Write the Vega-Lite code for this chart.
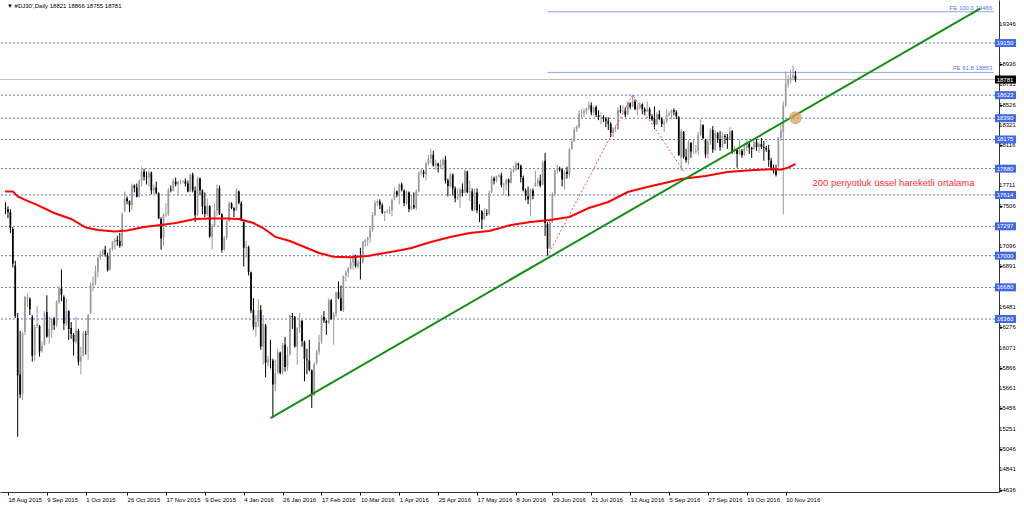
{
"$schema": "https://vega.github.io/schema/vega-lite/v6.json",
"width": 999, "height": 492,
"autosize": {"type": "none"},
"padding": {"left": 0, "top": 0, "right": 25, "bottom": 13},
"background": "white",
"config": {"view": {"stroke": null}, "font": "Liberation Sans", "axis": {"labelOverlap": false, "labelBound": false, "labelFlush": false}},
"datasets": {
"ylab": [{"p":14636},{"p":14841},{"p":15046},{"p":15251},{"p":15456},{"p":15661},{"p":15866},{"p":16071},{"p":16276},{"p":16481},{"p":16891},{"p":17096},{"p":17506},{"p":17711},{"p":18116},{"p":18321},{"p":18526},{"p":18731},{"p":18936},{"p":19346}],
"tags": [{"p":19150,"t":"19150","k":"lvl"},{"p":18623,"t":"18623","k":"lvl"},{"p":18390,"t":"18390","k":"lvl"},{"p":18175,"t":"18175","k":"lvl"},{"p":17880,"t":"17880","k":"lvl"},{"p":17614,"t":"17614","k":"lvl"},{"p":17297,"t":"17297","k":"lvl"},{"p":17000,"t":"17000","k":"lvl"},{"p":16680,"t":"16680","k":"lvl"},{"p":16360,"t":"16360","k":"lvl"},{"p":18781,"t":"18781","k":"bid"}],
"fe": [{"i":222,"p":19466,"t":"FE 100.0 19466"},{"i":222,"p":18853,"t":"FE 61.8 18853"}],
"fetri": [{"i":222,"p":16995},{"i":257,"p":18625},{"i":278,"p":17855}],
"trend": [{"i":108,"p":15359},{"i":400,"p":19498}],
"circ": [{"i":324,"p":18395}],
"note": [{"i":331,"p":17735,"t":"200 periyotluk üssel hareketli ortalama"}],
"head": [{"i":-0.4,"p":19525,"t":"▼ #DJ30',Daily  18821 18866 18755 18781"}],
"ema": [{"i":-1.2,"p":17650},{"i":2,"p":17650},{"i":4,"p":17600},{"i":8,"p":17555},{"i":12,"p":17513},{"i":19,"p":17432},{"i":26,"p":17371},{"i":32,"p":17285},{"i":37,"p":17260},{"i":44,"p":17245},{"i":49,"p":17255},{"i":56,"p":17290},{"i":63,"p":17310},{"i":69,"p":17330},{"i":77,"p":17370},{"i":83,"p":17375},{"i":90,"p":17375},{"i":95,"p":17370},{"i":101,"p":17330},{"i":105,"p":17280},{"i":110,"p":17190},{"i":116,"p":17148},{"i":121,"p":17098},{"i":128,"p":17027},{"i":134,"p":16990},{"i":141,"p":16985},{"i":148,"p":16997},{"i":155,"p":17027},{"i":162,"p":17057},{"i":166,"p":17078},{"i":174,"p":17138},{"i":182,"p":17189},{"i":190,"p":17229},{"i":198,"p":17250},{"i":207,"p":17310},{"i":215,"p":17341},{"i":223,"p":17361},{"i":231,"p":17391},{"i":239,"p":17482},{"i":247,"p":17543},{"i":255,"p":17644},{"i":263,"p":17694},{"i":272,"p":17745},{"i":277,"p":17775},{"i":287,"p":17806},{"i":296,"p":17846},{"i":307,"p":17866},{"i":315,"p":17876},{"i":318,"p":17870},{"i":321,"p":17890},{"i":324,"p":17927}],
"candles": [
{"i":-1,"o":17480,"h":17540,"l":17420,"c":17475},
{"i":0,"o":17470,"h":17500,"l":17380,"c":17441},
{"i":1,"o":17440,"h":17470,"l":17230,"c":17278},
{"i":2,"o":17270,"h":17290,"l":16880,"c":16920},
{"i":3,"o":16900,"h":16950,"l":16370,"c":16390},
{"i":4,"o":16370,"h":16420,"l":15170,"c":15790},
{"i":5,"o":15800,"h":16240,"l":15560,"c":15596},
{"i":6,"o":15600,"h":16230,"l":15540,"c":16215},
{"i":7,"o":16230,"h":16595,"l":16200,"c":16585},
{"i":8,"o":16560,"h":16620,"l":16480,"c":16573},
{"i":9,"o":16560,"h":16580,"l":16400,"c":16458},
{"i":10,"o":16380,"h":16400,"l":15930,"c":15988},
{"i":11,"o":15990,"h":16300,"l":15940,"c":16281},
{"i":12,"o":16290,"h":16490,"l":16270,"c":16304},
{"i":13,"o":16290,"h":16300,"l":15980,"c":16032},
{"i":14,"o":16040,"h":16130,"l":16020,"c":16090},
{"i":15,"o":16100,"h":16440,"l":16090,"c":16422},
{"i":16,"o":16430,"h":16600,"l":16170,"c":16183},
{"i":17,"o":16180,"h":16380,"l":16110,"c":16260},
{"i":18,"o":16250,"h":16370,"l":16170,"c":16363},
{"i":19,"o":16360,"h":16380,"l":16250,"c":16300},
{"i":20,"o":16300,"h":16550,"l":16280,"c":16529},
{"i":21,"o":16530,"h":16690,"l":16510,"c":16670},
{"i":22,"o":16670,"h":16860,"l":16540,"c":16605},
{"i":23,"o":16580,"h":16600,"l":16250,"c":16314},
{"i":24,"o":16310,"h":16570,"l":16290,"c":16440},
{"i":25,"o":16440,"h":16450,"l":16150,"c":16260},
{"i":26,"o":16270,"h":16330,"l":16160,"c":16210},
{"i":27,"o":16200,"h":16220,"l":15990,"c":16131},
{"i":28,"o":16130,"h":16380,"l":16110,"c":16245},
{"i":29,"o":16240,"h":16260,"l":15890,"c":15931},
{"i":30,"o":15930,"h":16080,"l":15800,"c":15979},
{"i":31,"o":15990,"h":16240,"l":15980,"c":16215},
{"i":32,"o":16210,"h":16240,"l":16000,"c":16202},
{"i":33,"o":16200,"h":16410,"l":15950,"c":16402},
{"i":34,"o":16420,"h":16730,"l":16410,"c":16706},
{"i":35,"o":16700,"h":16790,"l":16640,"c":16721},
{"i":36,"o":16720,"h":16900,"l":16700,"c":16842},
{"i":37,"o":16840,"h":16990,"l":16780,"c":16980},
{"i":38,"o":16990,"h":17050,"l":16960,"c":17014},
{"i":39,"o":17010,"h":17070,"l":16990,"c":17061},
{"i":40,"o":17060,"h":17100,"l":16990,"c":17011},
{"i":41,"o":17000,"h":17030,"l":16840,"c":16854},
{"i":42,"o":16860,"h":17080,"l":16850,"c":17071},
{"i":43,"o":17070,"h":17150,"l":17050,"c":17145},
{"i":44,"o":17140,"h":17180,"l":17060,"c":17160},
{"i":45,"o":17160,"h":17200,"l":17100,"c":17147},
{"i":46,"o":17150,"h":17230,"l":17080,"c":17099},
{"i":47,"o":17100,"h":17440,"l":17090,"c":17420},
{"i":48,"o":17450,"h":17650,"l":17440,"c":17577},
{"i":49,"o":17580,"h":17600,"l":17520,"c":17553},
{"i":50,"o":17550,"h":17560,"l":17440,"c":17511},
{"i":51,"o":17510,"h":17730,"l":17460,"c":17710},
{"i":52,"o":17710,"h":17720,"l":17640,"c":17686},
{"i":53,"o":17690,"h":17730,"l":17590,"c":17594},
{"i":54,"o":17600,"h":17770,"l":17590,"c":17758},
{"i":55,"o":17760,"h":17900,"l":17700,"c":17848},
{"i":56,"o":17850,"h":17880,"l":17760,"c":17798},
{"i":57,"o":17800,"h":17850,"l":17720,"c":17793},
{"i":58,"o":17790,"h":17860,"l":17700,"c":17840},
{"i":59,"o":17840,"h":17850,"l":17620,"c":17660},
{"i":60,"o":17660,"h":17720,"l":17620,"c":17688},
{"i":61,"o":17690,"h":17750,"l":17620,"c":17632},
{"i":62,"o":17630,"h":17640,"l":17370,"c":17378},
{"i":63,"o":17370,"h":17390,"l":17060,"c":17175},
{"i":64,"o":17180,"h":17430,"l":17100,"c":17414},
{"i":65,"o":17410,"h":17530,"l":17390,"c":17419},
{"i":66,"o":17420,"h":17680,"l":17400,"c":17667},
{"i":67,"o":17670,"h":17710,"l":17640,"c":17663},
{"i":68,"o":17660,"h":17780,"l":17650,"c":17754},
{"i":69,"o":17750,"h":17790,"l":17700,"c":17722},
{"i":70,"o":17720,"h":17760,"l":17600,"c":17743},
{"i":71,"o":17740,"h":17770,"l":17720,"c":17744},
{"i":72,"o":17745,"h":17765,"l":17730,"c":17750},
{"i":73,"o":17750,"h":17780,"l":17700,"c":17728},
{"i":74,"o":17730,"h":17760,"l":17640,"c":17650},
{"i":75,"o":17650,"h":17830,"l":17640,"c":17818},
{"i":76,"o":17820,"h":17840,"l":17640,"c":17660},
{"i":77,"o":17660,"h":17700,"l":17340,"c":17408},
{"i":78,"o":17410,"h":17800,"l":17400,"c":17778},
{"i":79,"o":17780,"h":17790,"l":17610,"c":17661},
{"i":80,"o":17660,"h":17670,"l":17420,"c":17498},
{"i":81,"o":17500,"h":17640,"l":17390,"c":17423},
{"i":82,"o":17420,"h":17580,"l":17400,"c":17505},
{"i":83,"o":17500,"h":17510,"l":17180,"c":17195},
{"i":84,"o":17190,"h":17320,"l":17060,"c":17298},
{"i":85,"o":17300,"h":17530,"l":17290,"c":17455},
{"i":86,"o":17460,"h":17720,"l":17400,"c":17680},
{"i":87,"o":17680,"h":17710,"l":17410,"c":17426},
{"i":88,"o":17420,"h":17430,"l":17030,"c":17058},
{"i":89,"o":17060,"h":17200,"l":17050,"c":17182},
{"i":90,"o":17180,"h":17360,"l":17160,"c":17348},
{"i":91,"o":17350,"h":17550,"l":17340,"c":17533},
{"i":92,"o":17530,"h":17540,"l":17470,"c":17483},
{"i":93,"o":17480,"h":17490,"l":17390,"c":17458},
{"i":94,"o":17460,"h":17680,"l":17450,"c":17651},
{"i":95,"o":17650,"h":17660,"l":17520,"c":17534},
{"i":96,"o":17530,"h":17550,"l":17350,"c":17355},
{"i":97,"o":17340,"h":17350,"l":16890,"c":17080},
{"i":98,"o":17080,"h":17150,"l":16980,"c":17089},
{"i":99,"o":17090,"h":17100,"l":16800,"c":16837},
{"i":100,"o":16830,"h":16840,"l":16420,"c":16445},
{"i":101,"o":16450,"h":16570,"l":16250,"c":16277},
{"i":102,"o":16280,"h":16400,"l":16180,"c":16329},
{"i":103,"o":16330,"h":16560,"l":16280,"c":16446},
{"i":104,"o":16450,"h":16500,"l":16050,"c":16082},
{"i":105,"o":16080,"h":16400,"l":15900,"c":16310},
{"i":106,"o":16300,"h":16310,"l":15770,"c":15918},
{"i":107,"o":15920,"h":15990,"l":15880,"c":15950},
{"i":108,"o":15950,"h":16150,"l":15860,"c":15947},
{"i":109,"o":15940,"h":15960,"l":15359,"c":15697},
{"i":110,"o":15700,"h":15950,"l":15630,"c":15812},
{"i":111,"o":15820,"h":16060,"l":15800,"c":16024},
{"i":112,"o":16020,"h":16030,"l":15800,"c":15816},
{"i":113,"o":15820,"h":16120,"l":15800,"c":16097},
{"i":114,"o":16100,"h":16180,"l":15830,"c":15874},
{"i":115,"o":15880,"h":16080,"l":15840,"c":16000},
{"i":116,"o":16000,"h":16400,"l":15990,"c":16396},
{"i":117,"o":16390,"h":16420,"l":16260,"c":16380},
{"i":118,"o":16380,"h":16390,"l":16070,"c":16084},
{"i":119,"o":16080,"h":16280,"l":15900,"c":16267},
{"i":120,"o":16270,"h":16420,"l":16220,"c":16347},
{"i":121,"o":16340,"h":16350,"l":16080,"c":16135},
{"i":122,"o":16130,"h":16140,"l":15730,"c":15957},
{"i":123,"o":15950,"h":16060,"l":15800,"c":15944},
{"i":124,"o":15940,"h":16150,"l":15830,"c":15845},
{"i":125,"o":15840,"h":15850,"l":15460,"c":15590},
{"i":126,"o":15590,"h":15920,"l":15580,"c":15904},
{"i":127,"o":15910,"h":16050,"l":15900,"c":16030},
{"i":128,"o":16030,"h":16200,"l":16000,"c":16126},
{"i":129,"o":16130,"h":16400,"l":16110,"c":16383},
{"i":130,"o":16380,"h":16440,"l":16320,"c":16344},
{"i":131,"o":16340,"h":16350,"l":16200,"c":16322},
{"i":132,"o":16320,"h":16570,"l":16310,"c":16550},
{"i":133,"o":16550,"h":16560,"l":16350,"c":16362},
{"i":134,"o":16360,"h":16430,"l":16100,"c":16415},
{"i":135,"o":16410,"h":16640,"l":16380,"c":16628},
{"i":136,"o":16630,"h":16740,"l":16560,"c":16570},
{"i":137,"o":16570,"h":16700,"l":16440,"c":16447},
{"i":138,"o":16450,"h":16800,"l":16430,"c":16795},
{"i":139,"o":16800,"h":16850,"l":16740,"c":16830},
{"i":140,"o":16830,"h":16890,"l":16780,"c":16874},
{"i":141,"o":16870,"h":17000,"l":16860,"c":16937},
{"i":142,"o":16930,"h":17020,"l":16860,"c":17004},
{"i":143,"o":17000,"h":17010,"l":16880,"c":16894},
{"i":144,"o":16890,"h":16960,"l":16870,"c":16931},
{"i":145,"o":16930,"h":17080,"l":16760,"c":16925},
{"i":146,"o":16930,"h":17150,"l":16920,"c":17143},
{"i":147,"o":17140,"h":17170,"l":17090,"c":17159},
{"i":148,"o":17160,"h":17190,"l":17100,"c":17181},
{"i":149,"o":17180,"h":17300,"l":17130,"c":17256},
{"i":150,"o":17260,"h":17440,"l":17240,"c":17411},
{"i":151,"o":17410,"h":17560,"l":17400,"c":17532},
{"i":152,"o":17530,"h":17570,"l":17500,"c":17554},
{"i":153,"o":17550,"h":17570,"l":17470,"c":17513},
{"i":154,"o":17510,"h":17530,"l":17420,"c":17433},
{"i":155,"o":17430,"h":17450,"l":17350,"c":17446},
{"i":156,"o":17445,"h":17470,"l":17430,"c":17450},
{"i":157,"o":17450,"h":17500,"l":17420,"c":17466},
{"i":158,"o":17460,"h":17580,"l":17400,"c":17564},
{"i":159,"o":17570,"h":17690,"l":17560,"c":17647},
{"i":160,"o":17650,"h":17660,"l":17590,"c":17615},
{"i":161,"o":17610,"h":17730,"l":17520,"c":17723},
{"i":162,"o":17720,"h":17740,"l":17650,"c":17667},
{"i":163,"o":17660,"h":17670,"l":17500,"c":17533},
{"i":164,"o":17530,"h":17660,"l":17510,"c":17646},
{"i":165,"o":17640,"h":17650,"l":17440,"c":17472},
{"i":166,"o":17470,"h":17620,"l":17460,"c":17507},
{"i":167,"o":17510,"h":17640,"l":17470,"c":17486},
{"i":168,"o":17480,"h":17670,"l":17460,"c":17651},
{"i":169,"o":17650,"h":17850,"l":17640,"c":17838},
{"i":170,"o":17840,"h":17880,"l":17810,"c":17856},
{"i":171,"o":17850,"h":17870,"l":17790,"c":17827},
{"i":172,"o":17820,"h":17950,"l":17760,"c":17934},
{"i":173,"o":17930,"h":18020,"l":17910,"c":17983},
{"i":174,"o":17980,"h":18080,"l":17930,"c":18026},
{"i":175,"o":18020,"h":18060,"l":17900,"c":17912},
{"i":176,"o":17910,"h":17970,"l":17870,"c":17933},
{"i":177,"o":17930,"h":17940,"l":17840,"c":17907},
{"i":178,"o":17900,"h":17970,"l":17880,"c":17920},
{"i":179,"o":17920,"h":17990,"l":17870,"c":17971},
{"i":180,"o":17970,"h":18010,"l":17730,"c":17760},
{"i":181,"o":17760,"h":17780,"l":17600,"c":17704},
{"i":182,"o":17700,"h":17840,"l":17690,"c":17821},
{"i":183,"o":17820,"h":17830,"l":17610,"c":17680},
{"i":184,"o":17680,"h":17700,"l":17540,"c":17581},
{"i":185,"o":17580,"h":17680,"l":17560,"c":17590},
{"i":186,"o":17590,"h":17690,"l":17480,"c":17670},
{"i":187,"o":17670,"h":17730,"l":17600,"c":17635},
{"i":188,"o":17640,"h":17870,"l":17630,"c":17858},
{"i":189,"o":17850,"h":17860,"l":17630,"c":17641},
{"i":190,"o":17640,"h":17760,"l":17550,"c":17650},
{"i":191,"o":17650,"h":17680,"l":17450,"c":17465},
{"i":192,"o":17460,"h":17680,"l":17450,"c":17641},
{"i":193,"o":17640,"h":17680,"l":17430,"c":17460},
{"i":194,"o":17460,"h":17520,"l":17340,"c":17457},
{"i":195,"o":17450,"h":17460,"l":17270,"c":17366},
{"i":196,"o":17370,"h":17480,"l":17360,"c":17431},
{"i":197,"o":17430,"h":17470,"l":17400,"c":17422},
{"i":198,"o":17420,"h":17660,"l":17410,"c":17636},
{"i":199,"o":17640,"h":17810,"l":17630,"c":17781},
{"i":200,"o":17780,"h":17800,"l":17720,"c":17758},
{"i":201,"o":17760,"h":17810,"l":17740,"c":17803},
{"i":202,"o":17800,"h":17830,"l":17790,"c":17810},
{"i":203,"o":17810,"h":17840,"l":17690,"c":17717},
{"i":204,"o":17710,"h":17740,"l":17610,"c":17719},
{"i":205,"o":17720,"h":17780,"l":17660,"c":17768},
{"i":206,"o":17770,"h":17780,"l":17600,"c":17737},
{"i":207,"o":17740,"h":17880,"l":17730,"c":17850},
{"i":208,"o":17850,"h":17910,"l":17840,"c":17868},
{"i":209,"o":17870,"h":17950,"l":17860,"c":17935},
{"i":210,"o":17930,"h":17940,"l":17870,"c":17915},
{"i":211,"o":17910,"h":17920,"l":17740,"c":17795},
{"i":212,"o":17790,"h":17810,"l":17650,"c":17662},
{"i":213,"o":17660,"h":17680,"l":17560,"c":17605},
{"i":214,"o":17600,"h":17700,"l":17520,"c":17570},
{"i":215,"o":17570,"h":17680,"l":17400,"c":17663},
{"i":216,"o":17660,"h":17680,"l":17570,"c":17605},
{"i":217,"o":17700,"h":17860,"l":17700,"c":17735},
{"i":218,"o":17730,"h":17790,"l":17700,"c":17759},
{"i":219,"o":17760,"h":17820,"l":17690,"c":17710},
{"i":220,"o":17720,"h":17960,"l":17710,"c":17941},
{"i":221,"o":17960,"h":18040,"l":17200,"c":17330},
{"i":222,"o":17320,"h":17340,"l":17000,"c":17070},
{"i":223,"o":17080,"h":17350,"l":17070,"c":17339},
{"i":224,"o":17340,"h":17640,"l":17330,"c":17625},
{"i":225,"o":17620,"h":17870,"l":17600,"c":17860},
{"i":226,"o":17860,"h":17920,"l":17830,"c":17879},
{"i":227,"o":17880,"h":17900,"l":17850,"c":17870},
{"i":228,"o":17870,"h":17880,"l":17700,"c":17771},
{"i":229,"o":17770,"h":17860,"l":17670,"c":17848},
{"i":230,"o":17850,"h":17900,"l":17780,"c":17825},
{"i":231,"o":17820,"h":18090,"l":17790,"c":18076},
{"i":232,"o":18080,"h":18190,"l":18070,"c":18156},
{"i":233,"o":18160,"h":18300,"l":18150,"c":18277},
{"i":234,"o":18280,"h":18320,"l":18250,"c":18302},
{"i":235,"o":18300,"h":18470,"l":18290,"c":18436},
{"i":236,"o":18440,"h":18480,"l":18400,"c":18446},
{"i":237,"o":18440,"h":18490,"l":18400,"c":18463},
{"i":238,"o":18460,"h":18500,"l":18430,"c":18489},
{"i":239,"o":18490,"h":18560,"l":18470,"c":18525},
{"i":240,"o":18520,"h":18550,"l":18420,"c":18447},
{"i":241,"o":18450,"h":18510,"l":18420,"c":18500},
{"i":242,"o":18500,"h":18520,"l":18400,"c":18423},
{"i":243,"o":18420,"h":18470,"l":18370,"c":18403},
{"i":244,"o":18400,"h":18450,"l":18330,"c":18402},
{"i":245,"o":18400,"h":18420,"l":18350,"c":18386},
{"i":246,"o":18380,"h":18400,"l":18300,"c":18362},
{"i":247,"o":18360,"h":18400,"l":18270,"c":18334},
{"i":248,"o":18330,"h":18350,"l":18200,"c":18243},
{"i":249,"o":18240,"h":18300,"l":18200,"c":18285},
{"i":250,"o":18280,"h":18320,"l":18250,"c":18282},
{"i":251,"o":18280,"h":18500,"l":18270,"c":18473},
{"i":252,"o":18470,"h":18520,"l":18440,"c":18459},
{"i":253,"o":18460,"h":18520,"l":18440,"c":18463},
{"i":254,"o":18460,"h":18500,"l":18400,"c":18425},
{"i":255,"o":18430,"h":18560,"l":18420,"c":18543},
{"i":256,"o":18540,"h":18550,"l":18480,"c":18506},
{"i":257,"o":18510,"h":18625,"l":18500,"c":18566},
{"i":258,"o":18560,"h":18580,"l":18470,"c":18482},
{"i":259,"o":18480,"h":18530,"l":18420,"c":18503},
{"i":260,"o":18500,"h":18550,"l":18480,"c":18527},
{"i":261,"o":18530,"h":18540,"l":18430,"c":18482},
{"i":262,"o":18480,"h":18500,"l":18420,"c":18459},
{"i":263,"o":18460,"h":18560,"l":18450,"c":18477},
{"i":264,"o":18480,"h":18500,"l":18380,"c":18411},
{"i":265,"o":18410,"h":18430,"l":18360,"c":18378},
{"i":266,"o":18380,"h":18510,"l":18280,"c":18325},
{"i":267,"o":18330,"h":18450,"l":18320,"c":18432},
{"i":268,"o":18430,"h":18470,"l":18370,"c":18384},
{"i":269,"o":18380,"h":18400,"l":18300,"c":18331},
{"i":270,"o":18330,"h":18380,"l":18250,"c":18349},
{"i":271,"o":18350,"h":18480,"l":18340,"c":18422},
{"i":272,"o":18420,"h":18460,"l":18410,"c":18440},
{"i":273,"o":18440,"h":18480,"l":18380,"c":18468},
{"i":274,"o":18470,"h":18490,"l":18420,"c":18456},
{"i":275,"o":18450,"h":18470,"l":18380,"c":18409},
{"i":276,"o":18400,"h":18410,"l":18010,"c":18015},
{"i":277,"o":17990,"h":18280,"l":17861,"c":18255},
{"i":278,"o":18250,"h":18260,"l":17980,"c":17997},
{"i":279,"o":18000,"h":18080,"l":17940,"c":17964},
{"i":280,"o":17960,"h":18170,"l":17920,"c":18142},
{"i":281,"o":18140,"h":18150,"l":17990,"c":18054},
{"i":282,"o":18050,"h":18180,"l":18030,"c":18050},
{"i":283,"o":18050,"h":18120,"l":18030,"c":18060},
{"i":284,"o":18060,"h":18250,"l":18020,"c":18224},
{"i":285,"o":18220,"h":18380,"l":18210,"c":18322},
{"i":286,"o":18320,"h":18330,"l":18180,"c":18191},
{"i":287,"o":18170,"h":18180,"l":17990,"c":18024},
{"i":288,"o":18030,"h":18180,"l":17980,"c":18158},
{"i":289,"o":18160,"h":18290,"l":18120,"c":18269},
{"i":290,"o":18270,"h":18310,"l":18040,"c":18074},
{"i":291,"o":18070,"h":18270,"l":18060,"c":18238},
{"i":292,"o":18240,"h":18250,"l":18140,"c":18183},
{"i":293,"o":18180,"h":18260,"l":18060,"c":18098},
{"i":294,"o":18100,"h":18250,"l":18090,"c":18211},
{"i":295,"o":18210,"h":18230,"l":18130,"c":18199},
{"i":296,"o":18200,"h":18230,"l":18080,"c":18170},
{"i":297,"o":18180,"h":18300,"l":18170,"c":18259},
{"i":298,"o":18260,"h":18270,"l":18030,"c":18058},
{"i":299,"o":18060,"h":18110,"l":18030,"c":18074},
{"i":300,"o":18070,"h":18080,"l":17890,"c":18029},
{"i":301,"o":18030,"h":18170,"l":18020,"c":18068},
{"i":302,"o":18060,"h":18080,"l":17990,"c":18016},
{"i":303,"o":18020,"h":18140,"l":18010,"c":18092},
{"i":304,"o":18090,"h":18180,"l":18060,"c":18133},
{"i":305,"o":18130,"h":18150,"l":18030,"c":18092},
{"i":306,"o":18090,"h":18100,"l":17990,"c":18075},
{"i":307,"o":18080,"h":18190,"l":18070,"c":18153},
{"i":308,"o":18150,"h":18180,"l":18060,"c":18099},
{"i":309,"o":18100,"h":18150,"l":18040,"c":18129},
{"i":310,"o":18130,"h":18190,"l":18080,"c":18100},
{"i":311,"o":18100,"h":18160,"l":17960,"c":18091},
{"i":312,"o":18090,"h":18110,"l":18050,"c":18072},
{"i":313,"o":18070,"h":18120,"l":17900,"c":17967},
{"i":314,"o":17960,"h":17990,"l":17860,"c":17890},
{"i":315,"o":17890,"h":17920,"l":17830,"c":17860},
{"i":316,"o":17860,"h":17920,"l":17800,"c":17818},
{"i":317,"o":17900,"h":18200,"l":17890,"c":18190},
{"i":318,"o":18190,"h":18330,"l":18160,"c":18262},
{"i":319,"o":18250,"h":18560,"l":17420,"c":18520},
{"i":320,"o":18520,"h":18864,"l":18500,"c":18738},
{"i":321,"o":18740,"h":18830,"l":18700,"c":18780},
{"i":322,"o":18780,"h":18880,"l":18740,"c":18800},
{"i":323,"o":18800,"h":18925,"l":18780,"c":18821},
{"i":324,"o":18821,"h":18866,"l":18755,"c":18781}
]
},
"layer": [
{"data": {"name": "tags"}, "transform": [{"filter": "datum.k == 'bid'"}],
 "mark": {"type": "rule", "color": "#c0c0c0", "strokeWidth": 1},
 "encoding": {"y": {"field": "p", "type": "quantitative", "title": null, "scale": {"domain": [14611, 19585], "nice": false, "zero": false}}}},
{"data": {"name": "tags"}, "transform": [{"filter": "datum.k == 'lvl'"}],
 "mark": {"type": "rule", "color": "#5577dd", "strokeWidth": 1, "strokeDash": [2, 2]},
 "encoding": {"y": {"field": "p", "type": "quantitative", "title": null, "scale": {"domain": [14611, 19585], "nice": false, "zero": false}}}},
{"data": {"name": "fe"},
 "mark": {"type": "rule", "color": "#8ea4ea", "strokeWidth": 1},
 "encoding": {"x": {"field": "i", "type": "quantitative", "title": null, "scale": {"domain": [-1.22, 405.7], "nice": false, "zero": false}},
  "x2": {"datum": 405.7},
  "y": {"field": "p", "type": "quantitative", "title": null, "scale": {"domain": [14611, 19585], "nice": false, "zero": false}}}},
{"data": {"name": "fe"},
 "mark": {"type": "text", "align": "right", "baseline": "bottom", "dy": -1, "fontSize": 6, "color": "#5b78d8"},
 "encoding": {"x": {"datum": 405.0, "type": "quantitative", "title": null, "scale": {"domain": [-1.22, 405.7], "nice": false, "zero": false}},
  "y": {"field": "p", "type": "quantitative", "title": null, "scale": {"domain": [14611, 19585], "nice": false, "zero": false}},
  "text": {"field": "t"}}},
{"data": {"name": "candles"},
 "mark": {"type": "rule", "strokeWidth": 1},
 "encoding": {
  "x": {"field": "i", "type": "quantitative", "title": null, "scale": {"domain": [-1.22, 405.7], "nice": false, "zero": false},
   "axis": {"title": null, "grid": false, "values": [0,16,32,49,65,81,97,113,129,145,161,177,193,209,224,240,256,272,288,304,320],
    "labelExpr": "['18 Aug 2015','9 Sep 2015','1 Oct 2015','26 Oct 2015','17 Nov 2015','9 Dec 2015','4 Jan 2016','26 Jan 2016','17 Feb 2016','10 Mar 2016','1 Apr 2016','25 Apr 2016','17 May 2016','8 Jun 2016','29 Jun 2016','21 Jul 2016','12 Aug 2016','5 Sep 2016','27 Sep 2016','19 Oct 2016','10 Nov 2016'][indexof([0,16,32,49,65,81,97,113,129,145,161,177,193,209,224,240,256,272,288,304,320], datum.value)]",
    "labelAlign": "left", "labelDx": 1, "labelFontSize": 6, "labelColor": "#000000", "labelPadding": 1, "tickSize": 3, "tickColor": "#000000", "domainColor": "#333333", "labelOverlap": false, "labelFlush": false}},
  "y": {"field": "l", "type": "quantitative", "title": null, "scale": {"domain": [14611, 19585], "nice": false, "zero": false},
   "axis": {"orient": "right", "title": null, "grid": false, "labels": false,
    "values": [14636,14841,15046,15251,15456,15661,15866,16071,16276,16481,16891,17096,17506,17711,18116,18321,18526,18731,18936,19346],
    "tickSize": 3, "tickColor": "#000000", "domainColor": "#333333"}},
  "y2": {"field": "h"},
  "color": {"condition": {"test": "datum.c >= datum.o", "value": "#9a9a9a"}, "value": "#000000"}}},
{"data": {"name": "candles"},
 "mark": {"type": "bar", "width": 1.7},
 "encoding": {
  "x": {"field": "i", "type": "quantitative", "title": null, "scale": {"domain": [-1.22, 405.7], "nice": false, "zero": false}},
  "y": {"field": "o", "type": "quantitative", "title": null, "scale": {"domain": [14611, 19585], "nice": false, "zero": false}},
  "y2": {"field": "c"},
  "color": {"condition": {"test": "datum.c >= datum.o", "value": "#9a9a9a"}, "value": "#000000"}}},
{"data": {"name": "ema"},
 "mark": {"type": "line", "color": "#ff0000", "strokeWidth": 2},
 "encoding": {"x": {"field": "i", "type": "quantitative", "title": null, "scale": {"domain": [-1.22, 405.7], "nice": false, "zero": false}},
  "y": {"field": "p", "type": "quantitative", "title": null, "scale": {"domain": [14611, 19585], "nice": false, "zero": false}}}},
{"data": {"name": "fetri"},
 "mark": {"type": "line", "color": "#ff5050", "strokeWidth": 1, "strokeDash": [2, 2]},
 "encoding": {"x": {"field": "i", "type": "quantitative", "title": null, "scale": {"domain": [-1.22, 405.7], "nice": false, "zero": false}},
  "y": {"field": "p", "type": "quantitative", "title": null, "scale": {"domain": [14611, 19585], "nice": false, "zero": false}}}},
{"data": {"name": "trend"},
 "mark": {"type": "line", "color": "#139013", "strokeWidth": 2},
 "encoding": {"x": {"field": "i", "type": "quantitative", "title": null, "scale": {"domain": [-1.22, 405.7], "nice": false, "zero": false}},
  "y": {"field": "p", "type": "quantitative", "title": null, "scale": {"domain": [14611, 19585], "nice": false, "zero": false}}}},
{"data": {"name": "circ"},
 "mark": {"type": "point", "filled": true, "size": 170, "color": "#d9a066", "opacity": 0.75},
 "encoding": {"x": {"field": "i", "type": "quantitative", "title": null, "scale": {"domain": [-1.22, 405.7], "nice": false, "zero": false}},
  "y": {"field": "p", "type": "quantitative", "title": null, "scale": {"domain": [14611, 19585], "nice": false, "zero": false}}}},
{"data": {"name": "note"},
 "mark": {"type": "text", "align": "left", "baseline": "middle", "fontSize": 9.5, "color": "#ff3030"},
 "encoding": {"x": {"field": "i", "type": "quantitative", "title": null, "scale": {"domain": [-1.22, 405.7], "nice": false, "zero": false}},
  "y": {"field": "p", "type": "quantitative", "title": null, "scale": {"domain": [14611, 19585], "nice": false, "zero": false}},
  "text": {"field": "t"}}},
{"data": {"name": "ylab"},
 "mark": {"type": "text", "align": "left", "baseline": "middle", "fontSize": 6, "color": "#000000"},
 "encoding": {"x": {"datum": 407.8, "type": "quantitative", "title": null, "scale": {"domain": [-1.22, 405.7], "nice": false, "zero": false}},
  "y": {"field": "p", "type": "quantitative", "title": null, "scale": {"domain": [14611, 19585], "nice": false, "zero": false}},
  "text": {"field": "p", "type": "quantitative", "format": "d"}}},
{"data": {"name": "tags"},
 "mark": {"type": "point", "filled": true, "size": 100, "opacity": 1, "shape": "M0,-0.8H4.2V0.8H0Z"},
 "encoding": {"x": {"datum": 406.1, "type": "quantitative", "title": null, "scale": {"domain": [-1.22, 405.7], "nice": false, "zero": false}},
  "y": {"field": "p", "type": "quantitative", "title": null, "scale": {"domain": [14611, 19585], "nice": false, "zero": false}},
  "color": {"condition": {"test": "datum.k == 'bid'", "value": "#000000"}, "value": "#4169e1"}}},
{"data": {"name": "tags"},
 "mark": {"type": "text", "align": "left", "baseline": "middle", "fontSize": 6, "color": "#ffffff"},
 "encoding": {"x": {"datum": 406.8, "type": "quantitative", "title": null, "scale": {"domain": [-1.22, 405.7], "nice": false, "zero": false}},
  "y": {"field": "p", "type": "quantitative", "title": null, "scale": {"domain": [14611, 19585], "nice": false, "zero": false}},
  "text": {"field": "t"}}},
{"data": {"name": "head"},
 "mark": {"type": "text", "align": "left", "baseline": "middle", "fontSize": 6, "color": "#000000"},
 "encoding": {"x": {"field": "i", "type": "quantitative", "title": null, "scale": {"domain": [-1.22, 405.7], "nice": false, "zero": false}},
  "y": {"field": "p", "type": "quantitative", "title": null, "scale": {"domain": [14611, 19585], "nice": false, "zero": false}},
  "text": {"field": "t"}}}
]
}
